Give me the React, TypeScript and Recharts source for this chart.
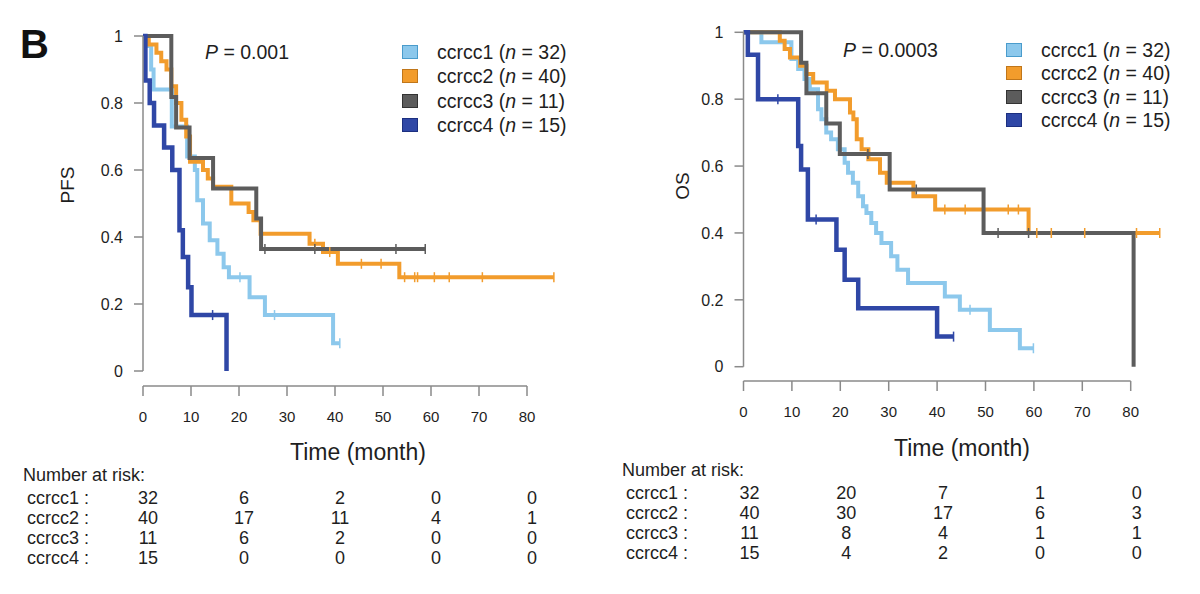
import React from "react";
import { ComposedChart, Line, XAxis, YAxis, ReferenceLine } from "recharts";

// [time (month), survival, censored]
type Pt = [number, number, number?];

const GROUPS = ["ccrcc1", "ccrcc2", "ccrcc3", "ccrcc4"];
const GROUP_N = [32, 40, 11, 15];
const COLORS = ["#8cc8ec", "#f29c2c", "#5c5c5c", "#2f47a6"];
const BORDERS = ["#4a9ccc", "#c0761a", "#333333", "#1c2f80"];

const X_TICKS = [0, 10, 20, 30, 40, 50, 60, 70, 80];
const Y_TICKS = [0, 0.2, 0.4, 0.6, 0.8, 1];
const RISK_TIMES = [0, 20, 40, 60, 80];

const PFS_C1: Pt[] = [
  [0, 1], [1, 0.97], [1.7, 0.9], [2.2, 0.84], [6, 0.73], [9.2, 0.64], [10.8, 0.6], [11.3, 0.51],
  [12.5, 0.44], [13.9, 0.39], [15.5, 0.35], [16.8, 0.31], [17.9, 0.28], [20.2, 0.28, 1],
  [22.2, 0.22], [25.4, 0.167], [27.4, 0.167, 1], [39.6, 0.083], [41, 0.083, 1],
];
const PFS_C2: Pt[] = [
  [0, 1], [1.2, 0.975], [2.8, 0.95], [3.8, 0.925], [4.9, 0.9], [5.9, 0.85], [6.9, 0.8], [8, 0.75],
  [9, 0.7], [9.8, 0.625], [12.5, 0.6], [13.5, 0.575], [14.6, 0.55], [18.4, 0.5], [22, 0.475],
  [23, 0.45], [24.5, 0.41], [34.7, 0.38], [35.8, 0.38, 1], [37.5, 0.355], [38.9, 0.355, 1],
  [40.6, 0.32], [45.5, 0.32, 1], [49.6, 0.32, 1], [53.4, 0.28], [54.5, 0.28, 1], [56.6, 0.28, 1],
  [57.2, 0.28, 1], [60.7, 0.28, 1], [63.8, 0.28, 1], [70.7, 0.28, 1], [85.6, 0.28, 1],
];
const PFS_C3: Pt[] = [
  [0, 1], [5.9, 0.818], [6.9, 0.727], [9.7, 0.636], [14.6, 0.545], [23.6, 0.455], [24.6, 0.364],
  [25.4, 0.364, 1], [35.8, 0.364, 1], [52.7, 0.364, 1], [58.8, 0.364, 1],
];
const PFS_C4: Pt[] = [
  [0, 1], [0.5, 0.867], [1.4, 0.8], [2.3, 0.733], [4.4, 0.667], [6.1, 0.6], [7.6, 0.42],
  [8.3, 0.34], [9.4, 0.25], [10.1, 0.167], [14.5, 0.167, 1], [17.4, 0],
];

const OS_C1: Pt[] = [
  [0, 1], [3.7, 0.97], [9.9, 0.92], [11.3, 0.89], [12.6, 0.86], [13.7, 0.83], [15.4, 0.77],
  [16.1, 0.74], [17.1, 0.7], [18.1, 0.68], [19.5, 0.65], [20.9, 0.61], [21.6, 0.58], [22.6, 0.55],
  [23.7, 0.51], [24.7, 0.48], [25.4, 0.46], [26.4, 0.43], [27.4, 0.4], [28.5, 0.37], [30.5, 0.33],
  [31.8, 0.29], [34, 0.25], [41.6, 0.21], [44.7, 0.17], [46.8, 0.17, 1], [50.9, 0.11],
  [57.1, 0.055], [59.9, 0.055, 1],
];
const OS_C2: Pt[] = [
  [0, 1], [7.5, 0.975], [8.5, 0.95], [9.6, 0.925], [11.7, 0.9], [13, 0.875], [14.4, 0.85],
  [17.2, 0.825], [18.9, 0.8], [22, 0.76], [22.7, 0.74], [23.4, 0.68], [24.4, 0.65], [25.8, 0.62],
  [28.2, 0.58], [29.6, 0.55], [35.1, 0.51], [39.6, 0.47], [41.6, 0.47, 1], [45.8, 0.47, 1],
  [54.7, 0.47, 1], [56.8, 0.47, 1], [58.9, 0.4], [60.6, 0.4, 1], [63.6, 0.4, 1], [70.5, 0.4, 1],
  [81.2, 0.4, 1], [86, 0.4, 1],
];
const OS_C3: Pt[] = [
  [0, 1], [11.9, 0.909], [13, 0.818], [17.1, 0.727], [19.9, 0.636], [25.7, 0.636, 1],
  [30.2, 0.53], [35.7, 0.53, 1], [49.6, 0.4], [52.6, 0.4, 1], [58.9, 0.4, 1], [80.6, 0],
];
const OS_C4: Pt[] = [
  [0, 1], [0.9, 0.933], [3, 0.8], [7.1, 0.8, 1], [11.3, 0.66], [11.9, 0.59], [13.3, 0.44],
  [15, 0.44, 1], [19.2, 0.35], [20.9, 0.26], [23.7, 0.175], [40, 0.09], [43.4, 0.09, 1],
];

const PFS_RISK = [
  [32, 6, 2, 0, 0],
  [40, 17, 11, 4, 1],
  [11, 6, 2, 0, 0],
  [15, 0, 0, 0, 0],
];
const OS_RISK = [
  [32, 20, 7, 1, 0],
  [40, 30, 17, 6, 3],
  [11, 8, 4, 1, 1],
  [15, 4, 2, 0, 0],
];

const FONT = '"Liberation Sans", Arial, Helvetica, sans-serif';
const AXIS = "#8a8a8a";
const INK = "#1e1e1e";
const X_MAX = 88;

const toRows = (pts: Pt[]) => pts.map(([t, s, c]) => ({ t, s, c: !!c }));

const censorDot = (color: string) => (p: any) =>
  p.payload?.c ? (
    <line key={`c-${p.index}`} x1={p.cx} x2={p.cx} y1={p.cy - 5} y2={p.cy + 5} stroke={color} strokeWidth={1.5} />
  ) : (
    <g key={`n-${p.index}`} />
  );

type PanelProps = {
  left: number;
  plotLeft: number;
  plotTop: number;
  plotBottom: number;
  pxPerMonth: number;
  axisDrop: number;
  series: Pt[][];
};

function KMPanel({ left, plotLeft, plotTop, plotBottom, pxPerMonth, axisDrop, series }: PanelProps) {
  const W = 600;
  const H = 594;
  const plotW = X_MAX * pxPerMonth;
  const yW = 40;
  const xH = 60;
  const plotH = plotBottom - plotTop;

  const XTick = (p: any) => (
    <g>
      <line x1={p.x} x2={p.x} y1={p.y + axisDrop} y2={p.y + axisDrop + 10} stroke={AXIS} strokeWidth={1.5} />
      <text x={p.x} y={p.y + axisDrop + 30} textAnchor="middle" dominantBaseline="central" fill={INK} fontSize={15} fontFamily={FONT}>
        {p.payload.value}
      </text>
    </g>
  );

  return (
    <div style={{ position: "absolute", left, top: 0 }}>
      <ComposedChart
        width={W}
        height={H}
        margin={{ top: plotTop, left: plotLeft - yW, right: W - plotLeft - plotW, bottom: H - plotBottom - xH }}
      >
        <XAxis
          type="number"
          dataKey="t"
          domain={[0, X_MAX]}
          ticks={X_TICKS}
          interval={0}
          allowDataOverflow
          axisLine={false}
          tickLine={false}
          tickSize={0}
          tickMargin={0}
          height={xH}
          tick={XTick}
        />
        <YAxis
          type="number"
          domain={[0, 1]}
          ticks={Y_TICKS}
          interval={0}
          width={yW}
          tickSize={9}
          tickMargin={11}
          stroke={AXIS}
          strokeWidth={1.5}
          tick={{ fill: INK, fontSize: 16, fontFamily: FONT }}
          tickFormatter={(v: number) => (v === 0 ? "0" : v === 1 ? "1" : v.toFixed(1))}
        />
        <ReferenceLine
          segment={[
            { x: 0, y: -axisDrop / plotH },
            { x: 80, y: -axisDrop / plotH },
          ]}
          ifOverflow="visible"
          stroke={AXIS}
          strokeWidth={1.5}
        />
        {series.map((pts, i) => (
          <Line
            key={GROUPS[i]}
            data={toRows(pts)}
            dataKey="s"
            type="stepAfter"
            stroke={COLORS[i]}
            strokeWidth={i === 3 ? 4.5 : 4}
            dot={censorDot(COLORS[i])}
            activeDot={false}
            isAnimationActive={false}
          />
        ))}
      </ComposedChart>
    </div>
  );
}

function Legend({ x, y, gap }: { x: number; y: number; gap: number }) {
  return (
    <div style={{ position: "absolute", left: x, top: y }}>
      {GROUPS.map((g, i) => (
        <div key={g} style={{ position: "absolute", left: 0, top: i * gap - 11, height: 22, display: "flex", alignItems: "center", whiteSpace: "nowrap" }}>
          <span style={{ width: 14, height: 12, background: COLORS[i], border: `1px solid ${BORDERS[i]}`, display: "inline-block" }} />
          <span style={{ marginLeft: 19, fontSize: 19.5, color: INK, lineHeight: "22px" }}>
            {g} (<i>n</i> = {GROUP_N[i]})
          </span>
        </div>
      ))}
    </div>
  );
}

type RiskProps = { x: number; titleY: number; rowY: number; rowGap: number; cols: number[]; data: number[][] };

function RiskTable({ x, titleY, rowY, rowGap, cols, data }: RiskProps) {
  const txt = { position: "absolute" as const, fontSize: 18, lineHeight: "22px", color: INK, whiteSpace: "nowrap" as const };
  return (
    <>
      <div style={{ ...txt, left: x, top: titleY - 11 }}>Number at risk:</div>
      {data.map((row, r) => (
        <React.Fragment key={r}>
          <div style={{ ...txt, left: x + 4, top: rowY + r * rowGap - 11 }}>{GROUPS[r]} :</div>
          {row.map((v, c) => (
            <div key={c} style={{ ...txt, left: cols[c] - 20, width: 40, textAlign: "center", top: rowY + r * rowGap - 11 }}>
              {v}
            </div>
          ))}
        </React.Fragment>
      ))}
    </>
  );
}

export default function App() {
  const leftPx = (t: number) => 143 + t * 4.8 + 5;
  const rightPx = (t: number) => 743.5 + t * 4.84 + 6;

  return (
    <div style={{ position: "absolute", left: 0, top: 0, width: 1200, height: 594, background: "#fff", fontFamily: FONT, overflow: "hidden" }}>
      <KMPanel left={0} plotLeft={143} plotTop={36} plotBottom={371} pxPerMonth={4.8} axisDrop={15} series={[PFS_C1, PFS_C2, PFS_C3, PFS_C4]} />
      <KMPanel left={600} plotLeft={143.5} plotTop={32.3} plotBottom={366.7} pxPerMonth={4.84} axisDrop={14.3} series={[OS_C1, OS_C2, OS_C3, OS_C4]} />

      <div style={{ position: "absolute", left: 20, top: 22, fontSize: 40, fontWeight: "bold", color: "#111", lineHeight: "44px" }}>B</div>

      <div style={{ position: "absolute", left: 205, top: 41, fontSize: 19.5, color: INK, lineHeight: "22px" }}>
        <i>P</i> = 0.001
      </div>
      <div style={{ position: "absolute", left: 843, top: 39, fontSize: 19.5, color: INK, lineHeight: "22px" }}>
        <i>P</i> = 0.0003
      </div>

      <Legend x={402} y={51.7} gap={24.5} />
      <Legend x={1006} y={50} gap={23.3} />

      <div style={{ position: "absolute", left: 68, top: 185, transform: "translate(-50%, -50%) rotate(-90deg)", fontSize: 19, color: INK }}>PFS</div>
      <div style={{ position: "absolute", left: 683, top: 186, transform: "translate(-50%, -50%) rotate(-90deg)", fontSize: 19, color: INK }}>OS</div>

      <div style={{ position: "absolute", left: 358, top: 452, transform: "translate(-50%, -50%)", fontSize: 23, color: INK, whiteSpace: "nowrap" }}>Time (month)</div>
      <div style={{ position: "absolute", left: 962, top: 448, transform: "translate(-50%, -50%)", fontSize: 23, color: INK, whiteSpace: "nowrap" }}>Time (month)</div>

      <RiskTable x={23} titleY={475} rowY={498} rowGap={20} cols={RISK_TIMES.map(leftPx)} data={PFS_RISK} />
      <RiskTable x={622} titleY={470} rowY={492.7} rowGap={20.1} cols={RISK_TIMES.map(rightPx)} data={OS_RISK} />
    </div>
  );
}
